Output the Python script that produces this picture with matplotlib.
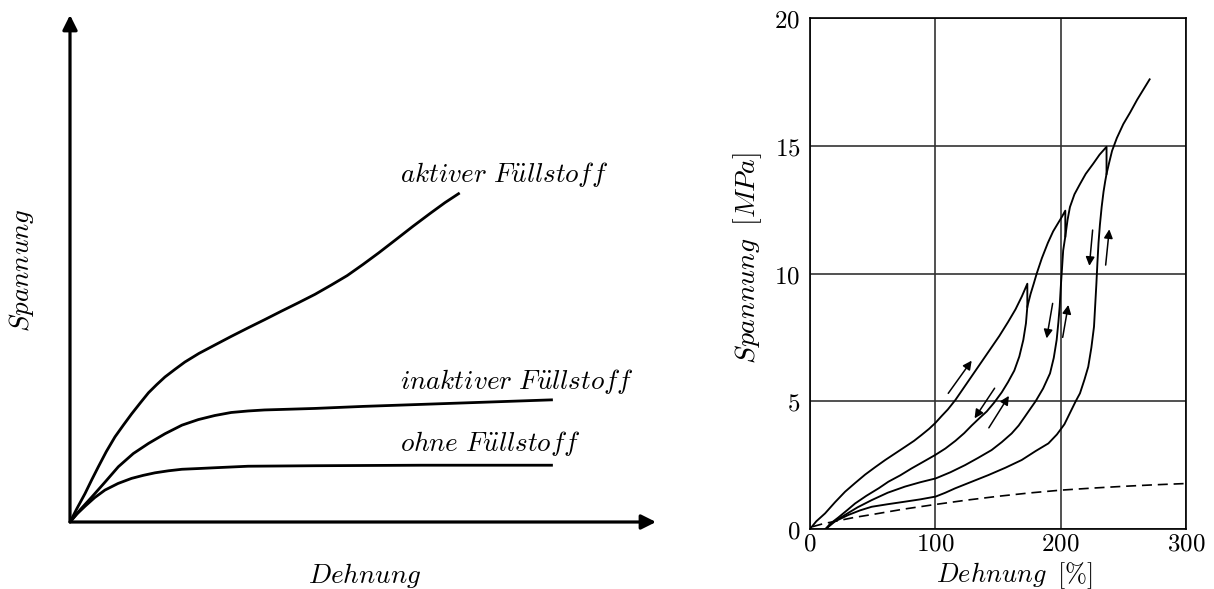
import matplotlib
matplotlib.use("Agg")
import matplotlib.pyplot as plt

plt.rcParams["mathtext.fontset"] = "cm"

# left panel: schematic curves (relative units, 0..100)
aktiver_x = [0, 1.2, 2.56, 3.7, 4.84, 6.2, 7.68, 9.1, 10.5, 12.0, 13.4, 14.8, 16.2, 17.9, 19.6,
             22.0, 24.7, 27.5, 30.4, 33.2, 36.1, 38.9, 41.8, 44.6, 47.3, 50.0, 52.7, 55.5,
             58.5, 61.5, 64.0, 66.5]
aktiver_y = [0, 2.7, 5.6, 8.3, 10.9, 13.9, 16.8, 19.1, 21.3, 23.5, 25.5, 27.1, 28.6, 30.1, 31.55,
             33.25, 34.9, 36.6, 38.3, 39.9, 41.6, 43.2, 44.9, 46.75, 48.6, 50.8, 53.1, 55.6,
             58.3, 60.9, 63.0, 64.9]
inaktiver_x = [0, 1.8, 3.7, 6.0, 8.25, 10.8, 13.4, 16.2, 19.1, 21.9, 24.7, 27.5, 30.4, 33.2,
               36.1, 41.8, 50.0, 60.0, 70.0, 82.4]
inaktiver_y = [0, 2.5, 4.9, 7.9, 10.9, 13.5, 15.5, 17.4, 19.1, 20.2, 21.0, 21.6, 21.9, 22.1,
               22.2, 22.4, 22.8, 23.2, 23.6, 24.1]
ohne_x = [0, 1.2, 2.56, 4.2, 5.97, 8.2, 10.5, 12.5, 14.5, 16.8, 19.1, 22.0, 24.7, 30.4,
          41.8, 60.0, 82.4]
ohne_y = [0, 1.6, 3.1, 4.8, 6.3, 7.6, 8.6, 9.2, 9.7, 10.1, 10.4, 10.55, 10.7, 11.0,
          11.1, 11.2, 11.2]
left_labels = [r"$aktiver\ F\ddot{u}llstoff$", r"$inaktiver\ F\ddot{u}llstoff$",
               r"$ohne\ F\ddot{u}llstoff$"]

# right panel: hysteresis curves, Dehnung [%] / Spannung [MPa]
curve_a_x = [0, 5, 12, 20, 28, 36, 44, 52, 60, 68, 76, 83, 89, 95, 100, 105, 110, 116, 123,
             130, 137, 144, 151, 158, 164, 169, 173.4, 173.4]
curve_a_y = [0, 0.3, 0.61, 1.05, 1.46, 1.8, 2.13, 2.42, 2.7, 2.96, 3.22, 3.45, 3.68, 3.92,
             4.15, 4.42, 4.68, 5.05, 5.55, 6.05, 6.55, 7.05, 7.55, 8.1, 8.6, 9.1, 9.6, 8.7]
curve_b_x = [12.5, 16, 22.6, 30, 36, 45, 55, 62.5, 72, 81, 90, 100, 108, 116, 123, 129, 135,
             141, 147, 153, 158, 163, 167, 170.2, 172.3, 173.4, 176, 178.5, 180.9, 185,
             189.8, 194, 197.8, 201, 203.7, 203.7]
curve_b_y = [0, 0.2, 0.45, 0.75, 1.0, 1.3, 1.6, 1.85, 2.1, 2.37, 2.62, 2.9, 3.15, 3.45, 3.75,
             4.05, 4.33, 4.6, 4.95, 5.35, 5.75, 6.2, 6.75, 7.4, 8.05, 8.7, 9.2, 9.6, 10.0,
             10.6, 11.2, 11.65, 11.96, 12.22, 12.46, 11.45]
curve_c_x = [12.5, 18, 27.9, 38, 49.2, 62, 75.8, 88, 100.3, 112, 123.7, 134, 144.9, 153,
             160.9, 166.5, 171.5, 176, 180, 186, 191.5, 194.5, 196.8, 198.2, 199.2, 200,
             200.8, 202, 203.7, 205.5, 207.4, 211, 215.4, 220, 226, 231, 236.6, 236.6]
curve_c_y = [0, 0.25, 0.55, 0.85, 1.13, 1.42, 1.66, 1.83, 1.98, 2.22, 2.5, 2.78, 3.09, 3.4,
             3.74, 4.05, 4.4, 4.72, 5.0, 5.5, 6.09, 6.7, 7.4, 8.1, 8.7, 9.4,
             10.0, 10.9, 11.45, 12.1, 12.6, 13.1, 13.5, 13.9, 14.3, 14.65, 14.96, 13.9]
curve_d_x = [12.5, 20, 30.6, 40, 49.2, 62, 75.8, 88, 100.3, 108, 115.7, 129, 142.3, 156,
             168.9, 180, 190.2, 197, 203, 208, 212, 215.4, 219, 222, 224.5, 226.6, 227.6,
             228.5, 229.3, 230.2, 231.3, 232.7, 234.2, 235.5, 236.6, 238.5, 241, 244.8,
             250, 255.4, 261, 266, 271]
curve_d_y = [0, 0.3, 0.55, 0.73, 0.87, 0.97, 1.07, 1.16, 1.27, 1.42, 1.59, 1.85, 2.11, 2.4,
             2.7, 3.05, 3.35, 3.7, 4.1, 4.6, 5.0, 5.31, 5.85, 6.35, 7.1, 7.92, 8.8,
             9.6, 10.4, 11.2, 11.9, 12.6, 13.2, 13.6, 13.9, 14.3, 14.8, 15.3,
             15.85, 16.3, 16.8, 17.2, 17.6]
dashed_x = [2, 10, 22, 35, 50, 75, 100, 125, 150, 175, 200, 225, 250, 275, 300]
dashed_y = [0.09, 0.2, 0.32, 0.45, 0.57, 0.78, 0.96, 1.13, 1.28, 1.41, 1.52, 1.6, 1.67, 1.73, 1.78]

# arrows: (tail, head)
arrows = [((110.3, 5.31), (129.0, 6.59)),
          ((147.3, 5.51), (131.3, 4.33)),
          ((142.7, 3.96), (158.7, 5.21)),
          ((193.6, 8.83), (188.8, 7.46)),
          ((201.6, 7.50), (206.1, 8.77)),
          ((225.5, 11.70), (222.9, 10.30)),
          ((235.9, 10.33), (238.8, 11.73))]

x_ticks = [0, 100, 200, 300]
y_ticks = [0, 5, 10, 15, 20]

fig = plt.figure(figsize=(12.14, 5.89), dpi=100)

# ---- left schematic ----
ax1 = fig.add_axes([70 / 1214, 67 / 589, 586 / 1214, 507 / 589])
ax1.set_xlim(0, 100)
ax1.set_ylim(0, 100)
ax1.axis("off")
arrow_kw = dict(arrowstyle="-|>", lw=2.3, color="k", mutation_scale=22, shrinkA=0, shrinkB=0)
ax1.annotate("", xy=(100, 0), xytext=(0, 0), arrowprops=arrow_kw, annotation_clip=False)
ax1.annotate("", xy=(0, 100), xytext=(0, 0), arrowprops=arrow_kw, annotation_clip=False)
for xs, ys in [(aktiver_x, aktiver_y), (inaktiver_x, inaktiver_y), (ohne_x, ohne_y)]:
    ax1.plot(xs, ys, color="k", lw=2.0, solid_capstyle="butt", solid_joinstyle="round",
             clip_on=False)
for lab, yy in zip(left_labels, [68.6, 27.8, 15.4]):
    ax1.text(56.3, yy, lab, fontsize=19.5, ha="left", va="center")
ax1.text(-8.2, 49.7, r"$Spannung$", fontsize=19.5, rotation=90, ha="center", va="center")
ax1.text(50.3, -10.6, r"$Dehnung$", fontsize=19.5, ha="center", va="center")

# ---- right diagram ----
ax2 = fig.add_axes([810 / 1214, 60 / 589, 376 / 1214, 511 / 589])
ax2.set_xlim(0, 300)
ax2.set_ylim(0, 20)
ax2.grid(True, color="#333333", lw=1.2)
ax2.set_xticks(x_ticks)
ax2.set_yticks(y_ticks)
ax2.set_xticklabels(["$%d$" % t for t in x_ticks], fontsize=18)
ax2.set_yticklabels(["$%d$" % t for t in y_ticks], fontsize=18)
ax2.tick_params(axis="x", length=0, pad=2)
ax2.tick_params(axis="y", length=0, pad=7)
for s in ax2.spines.values():
    s.set_linewidth(1.2)
for xs, ys in [(curve_a_x, curve_a_y), (curve_b_x, curve_b_y),
               (curve_c_x, curve_c_y), (curve_d_x, curve_d_y)]:
    ax2.plot(xs, ys, color="k", lw=1.35, solid_joinstyle="round")
ax2.plot(dashed_x, dashed_y, color="k", lw=1.2, ls=(0, (6, 3.5)))
for tail, head in arrows:
    ax2.annotate("", xy=head, xytext=tail,
                 arrowprops=dict(arrowstyle="-|>", lw=1.1, color="k",
                                 mutation_scale=13, shrinkA=0, shrinkB=0))
ax2.text(-0.165, 0.53, r"$Spannung\;\;[MPa]$", fontsize=20, rotation=90,
         ha="center", va="center", transform=ax2.transAxes)
ax2.text(0.545, -0.091, r"$Dehnung\;\;[\%]$", fontsize=19,
         ha="center", va="center", transform=ax2.transAxes)

fig.savefig("out.png", dpi=100)
